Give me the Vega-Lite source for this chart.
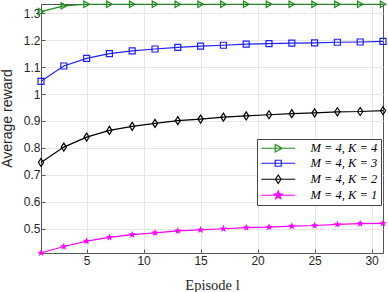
{
  "$schema": "https://vega.github.io/schema/vega-lite/v6.json",
  "width": 342,
  "height": 249,
  "autosize": "none",
  "padding": {"left": 41, "top": 4, "right": 5, "bottom": 39},
  "background": "white",
  "config": {
    "view": {"stroke": "#555555", "strokeWidth": 1},
    "axis": {
      "domain": false,
      "gridColor": "#e6e6e6",
      "gridWidth": 1,
      "tickColor": "#555555",
      "tickSize": -4,
      "labelFont": "Liberation Sans",
      "labelFontSize": 12,
      "labelColor": "#262626"
    }
  },
  "data": {
    "values": [
      {"episode": 1, "reward": 1.306, "series": "M = 4, K = 4"},
      {"episode": 3, "reward": 1.327, "series": "M = 4, K = 4"},
      {"episode": 5, "reward": 1.333, "series": "M = 4, K = 4"},
      {"episode": 7, "reward": 1.333, "series": "M = 4, K = 4"},
      {"episode": 9, "reward": 1.333, "series": "M = 4, K = 4"},
      {"episode": 11, "reward": 1.333, "series": "M = 4, K = 4"},
      {"episode": 13, "reward": 1.333, "series": "M = 4, K = 4"},
      {"episode": 15, "reward": 1.333, "series": "M = 4, K = 4"},
      {"episode": 17, "reward": 1.333, "series": "M = 4, K = 4"},
      {"episode": 19, "reward": 1.333, "series": "M = 4, K = 4"},
      {"episode": 21, "reward": 1.333, "series": "M = 4, K = 4"},
      {"episode": 23, "reward": 1.333, "series": "M = 4, K = 4"},
      {"episode": 25, "reward": 1.333, "series": "M = 4, K = 4"},
      {"episode": 27, "reward": 1.333, "series": "M = 4, K = 4"},
      {"episode": 29, "reward": 1.333, "series": "M = 4, K = 4"},
      {"episode": 31, "reward": 1.333, "series": "M = 4, K = 4"},
      {"episode": 1, "reward": 1.047, "series": "M = 4, K = 3"},
      {"episode": 3, "reward": 1.104, "series": "M = 4, K = 3"},
      {"episode": 5, "reward": 1.132, "series": "M = 4, K = 3"},
      {"episode": 7, "reward": 1.150, "series": "M = 4, K = 3"},
      {"episode": 9, "reward": 1.160, "series": "M = 4, K = 3"},
      {"episode": 11, "reward": 1.167, "series": "M = 4, K = 3"},
      {"episode": 13, "reward": 1.173, "series": "M = 4, K = 3"},
      {"episode": 15, "reward": 1.178, "series": "M = 4, K = 3"},
      {"episode": 17, "reward": 1.181, "series": "M = 4, K = 3"},
      {"episode": 19, "reward": 1.185, "series": "M = 4, K = 3"},
      {"episode": 21, "reward": 1.187, "series": "M = 4, K = 3"},
      {"episode": 23, "reward": 1.189, "series": "M = 4, K = 3"},
      {"episode": 25, "reward": 1.190, "series": "M = 4, K = 3"},
      {"episode": 27, "reward": 1.192, "series": "M = 4, K = 3"},
      {"episode": 29, "reward": 1.193, "series": "M = 4, K = 3"},
      {"episode": 31, "reward": 1.195, "series": "M = 4, K = 3"},
      {"episode": 1, "reward": 0.746, "series": "M = 4, K = 2"},
      {"episode": 3, "reward": 0.803, "series": "M = 4, K = 2"},
      {"episode": 5, "reward": 0.840, "series": "M = 4, K = 2"},
      {"episode": 7, "reward": 0.865, "series": "M = 4, K = 2"},
      {"episode": 9, "reward": 0.880, "series": "M = 4, K = 2"},
      {"episode": 11, "reward": 0.891, "series": "M = 4, K = 2"},
      {"episode": 13, "reward": 0.901, "series": "M = 4, K = 2"},
      {"episode": 15, "reward": 0.907, "series": "M = 4, K = 2"},
      {"episode": 17, "reward": 0.914, "series": "M = 4, K = 2"},
      {"episode": 19, "reward": 0.919, "series": "M = 4, K = 2"},
      {"episode": 21, "reward": 0.923, "series": "M = 4, K = 2"},
      {"episode": 23, "reward": 0.927, "series": "M = 4, K = 2"},
      {"episode": 25, "reward": 0.930, "series": "M = 4, K = 2"},
      {"episode": 27, "reward": 0.934, "series": "M = 4, K = 2"},
      {"episode": 29, "reward": 0.935, "series": "M = 4, K = 2"},
      {"episode": 31, "reward": 0.938, "series": "M = 4, K = 2"},
      {"episode": 1, "reward": 0.410, "series": "M = 4, K = 1"},
      {"episode": 3, "reward": 0.434, "series": "M = 4, K = 1"},
      {"episode": 5, "reward": 0.454, "series": "M = 4, K = 1"},
      {"episode": 7, "reward": 0.468, "series": "M = 4, K = 1"},
      {"episode": 9, "reward": 0.478, "series": "M = 4, K = 1"},
      {"episode": 11, "reward": 0.485, "series": "M = 4, K = 1"},
      {"episode": 13, "reward": 0.492, "series": "M = 4, K = 1"},
      {"episode": 15, "reward": 0.496, "series": "M = 4, K = 1"},
      {"episode": 17, "reward": 0.500, "series": "M = 4, K = 1"},
      {"episode": 19, "reward": 0.504, "series": "M = 4, K = 1"},
      {"episode": 21, "reward": 0.506, "series": "M = 4, K = 1"},
      {"episode": 23, "reward": 0.510, "series": "M = 4, K = 1"},
      {"episode": 25, "reward": 0.512, "series": "M = 4, K = 1"},
      {"episode": 27, "reward": 0.516, "series": "M = 4, K = 1"},
      {"episode": 29, "reward": 0.519, "series": "M = 4, K = 1"},
      {"episode": 31, "reward": 0.520, "series": "M = 4, K = 1"}
    ]
  },
  "encoding": {
    "x": {
      "field": "episode",
      "type": "quantitative",
      "scale": {"domain": [1, 31], "nice": false, "zero": false},
      "axis": {
        "values": [5, 10, 15, 20, 25, 30],
        "labelPadding": 6,
        "title": "Episode l",
        "titleFont": "Liberation Serif",
        "titleFontSize": 14.5,
        "titleFontWeight": "normal",
        "titleColor": "#262626",
        "titlePadding": 12
      }
    },
    "y": {
      "field": "reward",
      "type": "quantitative",
      "scale": {"domain": [0.41, 1.334], "nice": false, "zero": false},
      "axis": {
        "values": [0.5, 0.6, 0.7, 0.8, 0.9, 1.0, 1.1, 1.2, 1.3],
        "format": ".1~f",
        "labelPadding": 5,
        "title": "Average reward",
        "titleFont": "Liberation Sans",
        "titleFontSize": 14,
        "titleFontWeight": "normal",
        "titleColor": "#262626",
        "titleX": -27,
        "titleY": 114
      }
    }
  },
  "layer": [
    {
      "mark": {"type": "line", "strokeWidth": 1.2},
      "encoding": {
        "color": {
          "field": "series",
          "type": "nominal",
          "scale": {
            "domain": ["M = 4, K = 4", "M = 4, K = 3", "M = 4, K = 2", "M = 4, K = 1"],
            "range": ["#1e8c1e", "#1f1fff", "#000000", "#ff00ff"]
          },
          "legend": {
            "orient": "none",
            "legendX": 216,
            "legendY": 135,
            "title": null,
            "padding": 3,
            "strokeColor": "#444444",
            "fillColor": "white",
            "labelFont": "Liberation Serif",
            "labelFontSize": 12.5,
            "labelFontStyle": "italic",
            "labelColor": "black",
            "labelOffset": 26,
            "symbolOffset": 12,
            "rowPadding": 2,
            "symbolSize": 100,
            "symbolStrokeWidth": 1.2,
            "encode": {
              "symbols": {
                "update": {
                  "shape": {"signal": "datum.value === 'M = 4, K = 4' ? 'M-3.4,0L3.4,0M-0.6,-0.75L0.75,0L-0.6,0.75Z' : datum.value === 'M = 4, K = 3' ? 'M-3.4,0L3.4,0M-0.6,-0.6L0.6,-0.6L0.6,0.6L-0.6,0.6Z' : datum.value === 'M = 4, K = 2' ? 'M-3.4,0L3.4,0M0,-0.85L0.55,0L0,0.85L-0.55,0Z' : 'M-3.4,0L3.4,0M0,-0.85L0.208,-0.286L0.808,-0.263L0.337,0.11L0.5,0.688L0,0.354L-0.5,0.688L-0.337,0.11L-0.808,-0.263L-0.208,-0.286Z'"},
                  "fill": {"signal": "datum.value === 'M = 4, K = 1' ? '#ff00ff' : 'transparent'"},
                  "stroke": {"scale": "color", "field": "value"},
                  "size": {"value": 100}
                }
              }
            }
          }
        }
      }
    },
    {
      "transform": [{"filter": "datum.series === 'M = 4, K = 4'"}],
      "mark": {"type": "point", "shape": "triangle-right", "size": 40, "strokeWidth": 1.2, "opacity": 1, "filled": false, "color": "#1e8c1e"}
    },
    {
      "transform": [{"filter": "datum.series === 'M = 4, K = 3'"}],
      "mark": {"type": "point", "shape": "square", "size": 36, "strokeWidth": 1.2, "opacity": 1, "filled": false, "color": "#1f1fff"}
    },
    {
      "transform": [{"filter": "datum.series === 'M = 4, K = 2'"}],
      "mark": {"type": "point", "shape": "M0,-1L0.65,0L0,1L-0.65,0Z", "size": 64, "strokeWidth": 1.2, "opacity": 1, "filled": false, "color": "#000000"}
    },
    {
      "transform": [{"filter": "datum.series === 'M = 4, K = 1'"}],
      "mark": {"type": "point", "shape": "M0,-1L0.245,-0.337L0.951,-0.309L0.396,0.129L0.588,0.809L0,0.417L-0.588,0.809L-0.396,0.129L-0.951,-0.309L-0.245,-0.337Z", "size": 60, "strokeWidth": 1, "opacity": 1, "filled": true, "color": "#ff00ff"}
    }
  ]
}
